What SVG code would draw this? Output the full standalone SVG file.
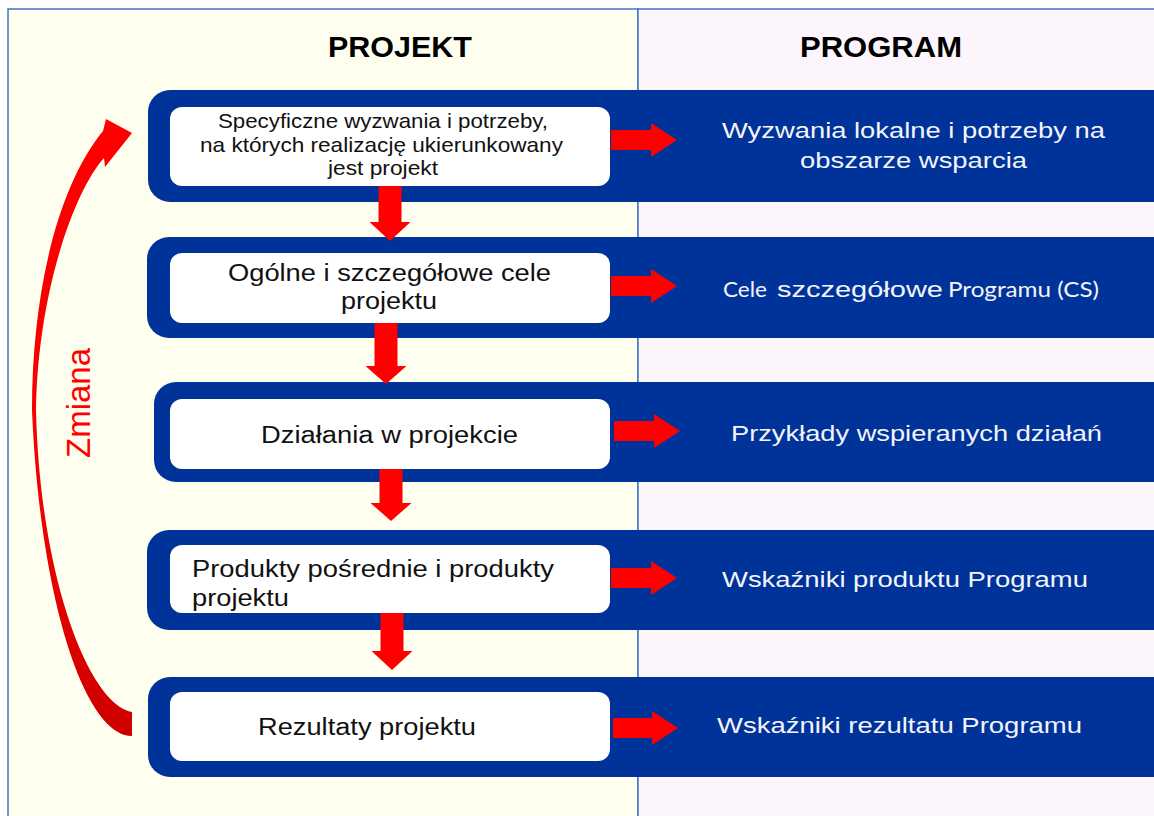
<svg xmlns="http://www.w3.org/2000/svg" width="1154" height="816" viewBox="0 0 1154 816">
<style>
.band{fill:#003399}
.box{fill:#FFFFFF}
.hdr{font-family:"Liberation Sans",Arial,sans-serif;font-weight:bold;font-size:29px;fill:#000}
.lt{font-family:"Liberation Sans",Arial,sans-serif;font-size:23.5px;fill:#111}
.lt1{font-family:"Liberation Sans",Arial,sans-serif;font-size:21px;fill:#111}
.rt{font-family:"Liberation Sans",Arial,sans-serif;font-size:22px;fill:#F4F4F8}
.rtc{font-family:Lato,"Open Sans",sans-serif;font-size:22px;fill:#F4F4F8}
.arr{fill:#FF0000}
</style>
<defs>
<linearGradient id="cg" gradientUnits="userSpaceOnUse" x1="0" y1="120" x2="0" y2="740">
<stop offset="0" stop-color="#FF0000"/>
<stop offset="0.6" stop-color="#F20000"/>
<stop offset="1" stop-color="#CC0000"/>
</linearGradient>
</defs>
<rect x="0" y="0" width="1154" height="816" fill="#FFFFFF"/>
<g id="panels">
<rect x="8" y="9" width="630" height="830" fill="#FFFFF0" stroke="#4472C4" stroke-width="1.5"/>
<rect x="638" y="9" width="540" height="830" fill="#FCF5FC" stroke="#4472C4" stroke-width="1.5"/>
<text class="hdr" x="400" y="57" text-anchor="middle" textLength="144" lengthAdjust="spacingAndGlyphs">PROJEKT</text>
<text class="hdr" x="881" y="57" text-anchor="middle" textLength="162" lengthAdjust="spacingAndGlyphs">PROGRAM</text>
</g>
<g id="node1">
<rect class="band" x="148" y="90" width="1040" height="112" rx="22"/>
<rect class="box" x="170" y="107" width="440" height="79" rx="12"/>
<text class="lt1" x="383" y="128" text-anchor="middle" textLength="330" lengthAdjust="spacingAndGlyphs">Specyficzne wyzwania i potrzeby,</text>
<text class="lt1" x="381.5" y="152" text-anchor="middle" textLength="363" lengthAdjust="spacingAndGlyphs">na których realizację ukierunkowany</text>
<text class="lt1" x="383" y="175" text-anchor="middle" textLength="110" lengthAdjust="spacingAndGlyphs">jest projekt</text>
<text class="rt" x="722" y="138" textLength="383" lengthAdjust="spacingAndGlyphs">Wyzwania lokalne i potrzeby na</text>
<text class="rt" x="800" y="168" textLength="227" lengthAdjust="spacingAndGlyphs">obszarze wsparcia</text>
</g>
<g id="node2">
<rect class="band" x="147" y="237" width="1040" height="101" rx="22"/>
<rect class="box" x="170" y="253" width="440" height="70" rx="12"/>
<text class="lt" x="389.5" y="281" text-anchor="middle" textLength="323" lengthAdjust="spacingAndGlyphs">Ogólne i szczegółowe cele</text>
<text class="lt" x="389" y="309" text-anchor="middle" textLength="96" lengthAdjust="spacingAndGlyphs">projektu</text>
<text class="rtc" x="723" y="297" textLength="44" lengthAdjust="spacingAndGlyphs">Cele</text>
<text class="rt" x="777" y="297" textLength="166" lengthAdjust="spacingAndGlyphs">szczegółowe</text>
<text class="rtc" x="948" y="297" textLength="151" lengthAdjust="spacingAndGlyphs">Programu (CS)</text>
</g>
<g id="node3">
<rect class="band" x="154" y="382" width="1040" height="100" rx="22"/>
<rect class="box" x="170" y="399" width="440" height="70" rx="12"/>
<text class="lt" x="389.5" y="443" text-anchor="middle" textLength="257" lengthAdjust="spacingAndGlyphs">Działania w projekcie</text>
<text class="rt" x="731" y="441" textLength="371" lengthAdjust="spacingAndGlyphs">Przykłady wspieranych działań</text>
</g>
<g id="node4">
<rect class="band" x="147" y="530" width="1040" height="100" rx="22"/>
<rect class="box" x="170" y="545" width="440" height="68" rx="12"/>
<text class="lt" x="192" y="577" textLength="362" lengthAdjust="spacingAndGlyphs">Produkty pośrednie i produkty</text>
<text class="lt" x="192" y="606" textLength="97" lengthAdjust="spacingAndGlyphs">projektu</text>
<text class="rt" x="722" y="587" textLength="366" lengthAdjust="spacingAndGlyphs">Wskaźniki produktu Programu</text>
</g>
<g id="node5">
<rect class="band" x="148" y="677" width="1040" height="100" rx="22"/>
<rect class="box" x="170" y="692" width="440" height="69" rx="12"/>
<text class="lt" x="367" y="735" text-anchor="middle" textLength="218" lengthAdjust="spacingAndGlyphs">Rezultaty projektu</text>
<text class="rt" x="717" y="733" textLength="365" lengthAdjust="spacingAndGlyphs">Wskaźniki rezultatu Programu</text>
</g>
<g id="connectors">
<polygon class="arr" points="378.5,186 401.5,186 401.5,222 410.5,222 390,241 369.5,222 378.5,222"/>
<polygon class="arr" points="374.5,323 397.5,323 397.5,366 406.5,366 386,384 365.5,366 374.5,366"/>
<polygon class="arr" points="379.5,469 402.5,469 402.5,503 411.5,503 391,521 370.5,503 379.5,503"/>
<polygon class="arr" points="380.5,613 403.5,613 403.5,651 412.5,651 392,670 371.5,651 380.5,651"/>
<polygon class="arr" points="611,130 651,130 651,123 677,140 651,157 651,150 611,150"/>
<polygon class="arr" points="611,276 651,276 651,269 677,286 651,303 651,296 611,296"/>
<polygon class="arr" points="614,421 654,421 654,414 680,431 654,448 654,441 614,441"/>
<polygon class="arr" points="611,568 651,568 651,561 677,578 651,595 651,588 611,588"/>
<polygon class="arr" points="613,718 652,718 652,711 678,728 652,745 652,738 613,738"/>
<path fill="url(#cg)" d="M132,736 C85,736 40,600 32,410 C32,300 55,190 103,131 L106,119 L132,133 L105,167 L104,158 C75,190 38,290 36,410 C40,580 90,705 132,712 Z"/>
<text x="90" y="403" transform="rotate(-90 90 403)" text-anchor="middle" font-family="'Liberation Sans',Arial,sans-serif" font-size="33" fill="#FF0000" textLength="110" lengthAdjust="spacingAndGlyphs">Zmiana</text>
</g>
</svg>
